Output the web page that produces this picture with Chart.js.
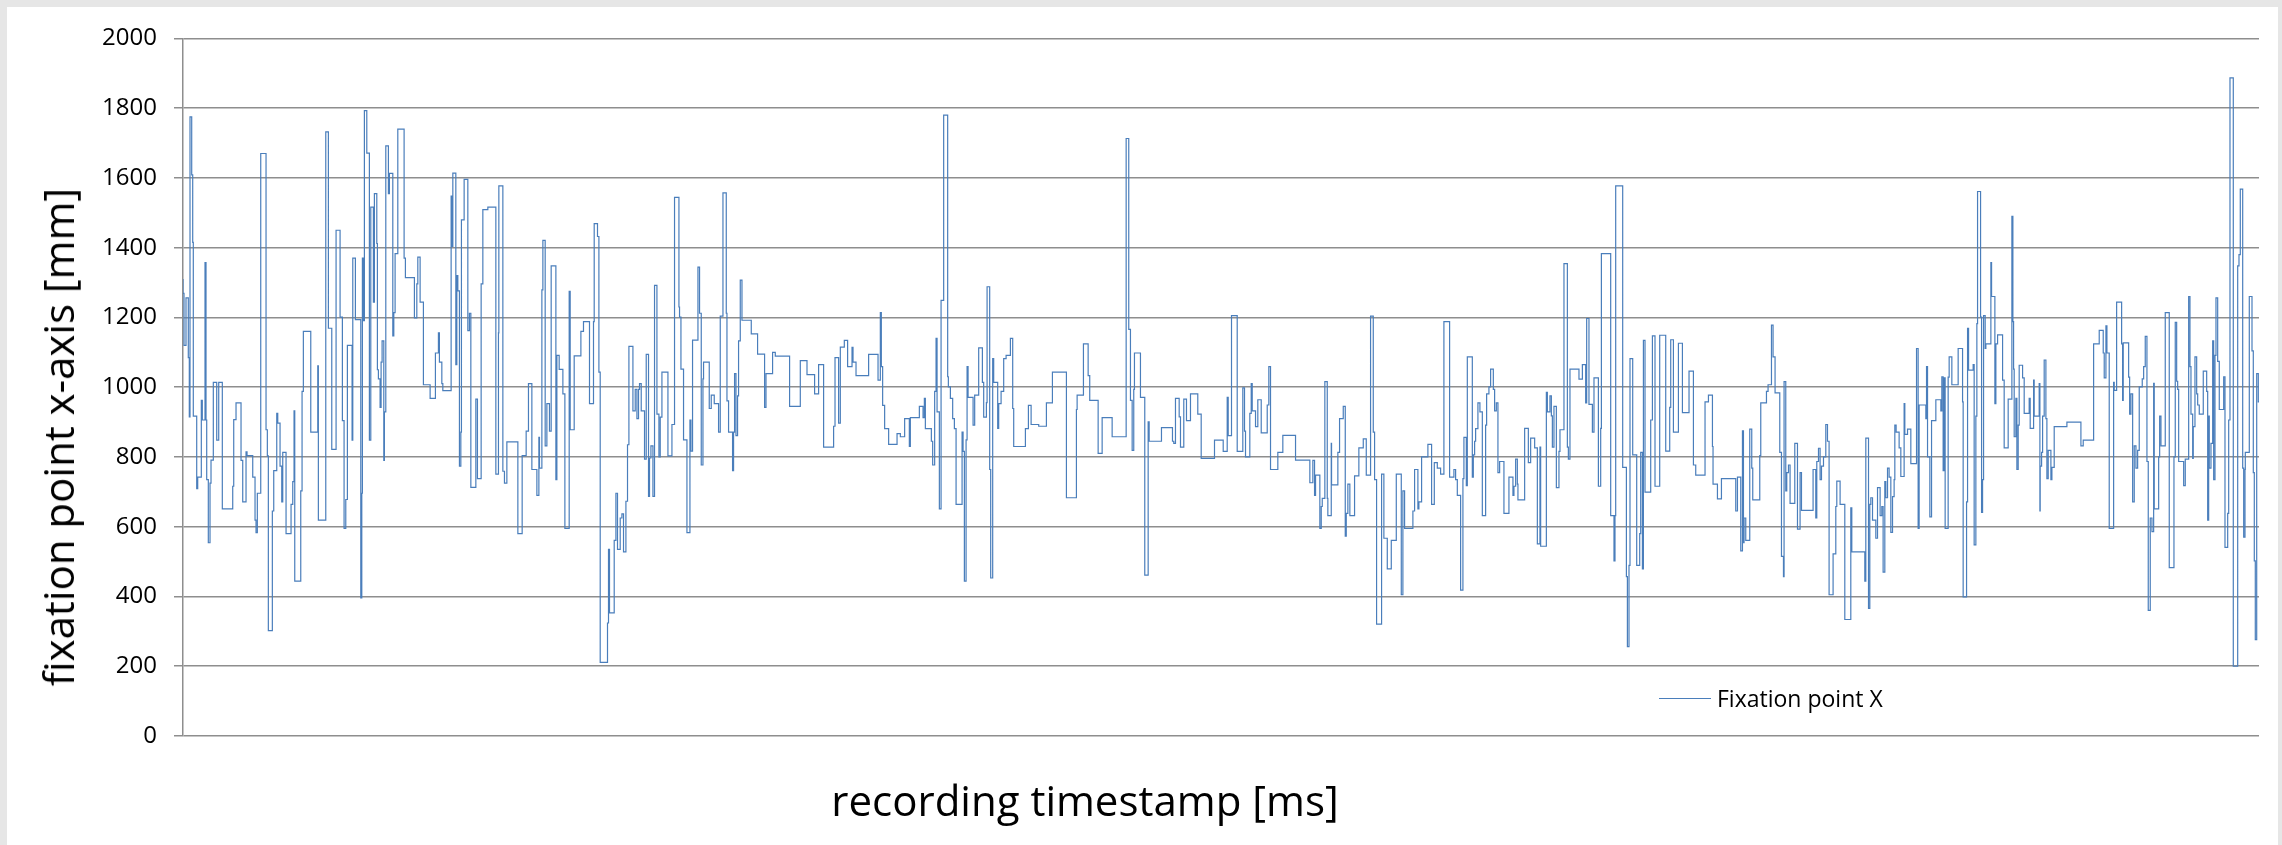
<!DOCTYPE html>
<html>
<head>
<meta charset="utf-8">
<script src="https://cdn.jsdelivr.net/npm/chart.js@4.4.0/dist/chart.umd.min.js"></script>
<style>
  html, body { margin: 0; padding: 0; }
  body { background: #e6e6e6; width: 2282px; height: 845px; overflow: hidden; position: relative; font-family: "Open Sans", sans-serif; }
  #frame { position: absolute; left: 7px; top: 7px; width: 2271px; height: 838px; background: #fff; }
  #chartBox { position: absolute; left: 0; top: 0; width: 2271px; height: 838px; }
  .axisTitle { position: absolute; font-size: 42px; color: #000; white-space: nowrap; line-height: 1; }
  #yTitle { left: 51px; top: 430px; transform: translate(-50%, -50%) rotate(-90deg); }
  #xTitle { left: 1078px; top: 793px; transform: translate(-50%, -50%); }
  #legend { position: absolute; left: 1652px; top: 678px; height: 26px; display: flex; align-items: center; font-size: 23px; color: #000; white-space: nowrap; }
  #legend .swatch { width: 52px; height: 0; border-top: 1.5px solid #4a7ebb; margin-right: 6px; }
</style>
</head>
<body>
<div id="frame">
  <div id="chartBox"><canvas id="fixationChart"></canvas></div>
  <div class="axisTitle" id="yTitle">fixation point x-axis [mm]</div>
  <div class="axisTitle" id="xTitle">recording timestamp [ms]</div>
  <div id="legend"><span class="swatch"></span><span id="legendText"></span></div>
</div>
<script>
// Series name and axis range
const seriesName = 'Fixation point X';
const yTicksMax = 2000;
const yTickStep = 200;
const recordingEnd = 20750;

// Recording timestamps (ms) where the fixation value changes
const timestampsMs = [
  0,10,30,53,63,70,87,97,103,137,147,183,193,220,230,237,253,270,280,303,
  337,357,393,497,507,530,580,597,630,640,697,720,730,743,777,830,843,853,893,907,
  937,947,970,987,997,1030,1080,1097,1110,1117,1177,1190,1203,1277,1347,1353,1427,1453,1487,1530,
  1570,1593,1610,1627,1643,1690,1697,1723,1777,1787,1793,1803,1813,1837,1863,1877,1903,1913,1937,1943,
  1953,1970,1980,1990,2007,2013,2027,2053,2063,2097,2107,2120,2147,2210,2223,2313,2337,2347,2370,2403,
  2470,2523,2553,2563,
  2587,2597,2680,2687,2697,2727,2737,2747,2763,2777,2783,2810,2847,2863,2877,2927,2943,2980,2997,3047,
  3127,3153,3157,3197,3213,3237,3347,3390,3430,3453,3487,3537,3557,3563,3587,3597,3620,3637,3663,3680,
  3727,3737,3760,3797,3817,3860,3870,3910,3977,4003,4063,4103,4110,4143,4157,4170,4243,4253,4263,4310,
  4327,4343,4370,4387,4403,4427,4443,4457,4497,4520,4537,4553,4563,4580,4613,4630,4653,4663,4677,4697,
  4713,4737,4757,4770,4787,4847,4887,4913,4957,4963,4977,5003,5037,5067,5077,5093,5147,5163,
  5180,5197,5203,5260,5280,5310,5353,5370,5397,5430,5437,5453,5493,5503,5513,5527,5543,5553,5570,5587,
  5680,5743,5813,5827,5893,5920,6063,6170,6237,6313,6353,6403,6503,6517,6553,6570,6610,6643,6687,6697,
  6727,6853,6947,6970,6980,6993,7013,7053,7137,7170,7213,7260,7270,7360,7397,7410,7420,7480,7493,7513,
  7527,7537,7560,7577,7603,7643,7650,7670,7693,7710,7727,
  7787,7797,7810,7827,7837,7847,7897,7913,7953,7990,8003,8030,8037,8063,8073,8093,8103,8143,8153,8177,
  8203,8227,8270,8293,8303,8420,8450,8477,8553,8630,8690,8830,8930,8937,9000,9047,9063,9147,9187,9287,
  9427,9453,9470,9487,9503,9510,9570,9613,9647,9657,9780,9890,9903,9920,9957,9970,10003,10030,10070,10143,
  10177,10310,
  10397,10437,10447,10480,10537,10593,10610,10620,10663,10677,10687,10720,10743,10777,10837,10853,10870,10943,10993,11120,
  11263,11293,11310,11320,11363,11377,11387,11413,11437,11443,11477,11480,11543,11560,11597,11617,11627,11643,11663,11710,
  11753,11797,11827,11870,11897,11910,11930,11980,12003,12037,12077,12127,12177,12193,12210,12293,12310,12343,12353,12380,
  12443,12480,12507,12537,12570,12603,12660,12703,12720,12737,12770,12793,12803,12827,12837,12887,12897,12910,12920,12943,
  12963,
  12987,13020,13030,13053,13070,13097,13110,13127,13143,13160,13203,13253,13293,13303,13320,13337,13343,13410,13447,13470,
  13510,13537,13563,13570,13627,13637,13663,13677,13687,13703,13727,13753,13763,13803,13837,13847,13863,13953,13987,14020,
  14030,14053,14087,14103,14147,14170,14177,14270,14303,14313,14320,14390,14427,14437,14453,14463,14490,14530,14560,14570,
  14587,14597,14613,14670,14687,14713,14760,14820,14860,14870,14897,14947,14987,15053,15097,15120,15213,15247,15287,15293,
  15337,15377,15520,15537,
  15570,15587,15597,15603,15620,15660,15680,15690,15760,15770,15827,15843,15877,15893,15913,15960,15977,15997,16003,16020,
  16030,16047,16063,16110,16137,16163,16177,16293,16320,16330,16347,16363,16377,16397,16420,16437,16453,16493,16520,16530,
  16563,16610,16670,16680,16810,16820,16847,16860,16870,16887,16920,16937,16963,16980,16993,17010,17020,17037,17053,17070,
  17087,17103,17110,17123,17153,17170,17203,17210,17237,17270,17327,17343,17353,17420,17427,17437,17460,17477,17520,17570,
  17580,17593,17603,17613,17643,17653,17680,17743,17787,17793,17827,17837,17847,17893,17903,17920,17930,17937,17967,17977,
  17987,17997,18013,18020,18070,18077,18110,18120,18137,
  18187,18203,18243,18280,18290,18297,18303,18320,18330,18343,18353,18387,18403,18453,18463,18497,18503,18553,18560,18563,
  18577,18587,18603,18620,18630,18643,18670,18680,18703,18830,18970,18993,19097,19153,19193,19203,19220,19230,19253,19297,
  19303,19327,19377,19387,19393,19447,19457,19470,19487,19503,19520,19537,19553,19583,19597,19613,19630,19643,19663,19680,
  19697,19703,19747,19757,19770,19813,19853,19900,19913,19927,19937,19947,19997,20013,20047,20060,20070,20087,20093,20110,
  20127,20137,20153,20193,20227,20237,20247,20253,20270,20287,20297,20310,20320,20337,20353,20397,20410,20437,20447,20460,
  20493,20537,20550,20563,20587,20597,20610,20613,20653,20680,20693,20703,20713,20727,20743,20750
];

// Fixation point x (mm) from each timestamp on
const fixationX = [
  1310,1269,1120,1256,1085,915,1775,1609,1415,917,709,742,962,906,1357,906,735,554,725,791,
  1014,848,1014,651,716,907,955,790,671,815,804,742,619,583,696,1670,878,803,302,645,
  761,925,897,774,671,813,580,664,729,932,444,703,988,1160,871,1061,619,1732,1169,822,
  1450,1201,904,595,678,1120,848,1370,1194,396,696,1370,1191,1793,1671,848,1516,1244,1555,1412,
  1050,1024,942,1072,1133,790,929,1692,1555,1613,1147,1214,1383,1740,1370,1314,1199,1296,1373,1244,
  1007,968,1098,1156,
  1072,1010,990,1548,1404,1614,1065,1320,1276,774,871,1480,1596,1162,1212,713,966,738,1296,1509,
  1516,751,1156,1577,759,725,843,580,804,874,1010,764,690,856,768,1279,1421,832,953,874,
  1348,735,1091,1051,981,595,1275,878,1090,1160,1188,953,1188,1469,1432,1043,211,324,535,353,
  561,696,535,625,637,528,673,835,1117,932,994,910,994,1010,932,794,1094,687,797,832,
  687,1292,923,800,914,1043,803,893,1544,1230,1201,1052,849,583,906,817,1135,1344,
  1212,777,1024,1072,939,977,953,871,1204,1557,1212,961,871,761,871,1039,861,975,1133,1307,
  1192,1153,1095,942,1039,1100,1089,945,1076,1036,981,1065,828,888,1085,897,1115,1134,1059,1114,
  1072,1033,1094,1020,1214,1059,948,881,836,867,858,910,830,913,945,913,968,881,845,777,
  988,1140,929,651,1249,1780,1030,1001,968,910,881,
  664,871,816,444,849,1059,971,891,977,1113,1014,914,956,1288,764,453,1082,1014,882,953,
  988,1082,1091,1140,939,830,881,948,893,888,955,1043,683,936,977,1124,1033,962,810,913,
  858,1713,1166,962,819,994,1098,971,461,901,845,884,845,839,968,915,828,966,904,981,
  923,796,
  848,816,971,861,1205,816,998,874,800,925,1010,932,887,964,869,949,1059,764,813,862,
  791,726,790,690,748,595,658,681,1016,681,632,839,720,813,910,945,573,638,722,632,
  746,826,852,748,1204,871,735,321,751,567,479,561,751,405,703,595,645,764,651,671,
  800,836,664,784,768,751,1188,742,764,735,690,418,738,856,718,1087,742,806,845,881,
  955,
  929,632,891,981,1001,1052,994,932,955,755,787,638,742,690,716,794,722,677,882,784,
  854,826,551,828,544,985,929,975,918,828,945,712,816,878,1354,828,794,1052,1023,1065,
  955,1197,951,871,1027,716,882,1383,632,502,632,1577,770,457,256,489,1082,806,489,580,
  813,479,1134,699,906,1147,716,1149,817,942,1136,871,1126,927,1046,777,748,958,977,830,
  722,680,738,645,
  742,531,875,554,625,561,880,768,677,804,955,988,1007,1178,1087,984,813,515,457,1016,
  703,755,777,667,839,593,755,647,764,625,787,825,735,774,800,893,845,405,522,658,
  731,664,334,654,528,444,854,366,664,683,619,567,712,632,658,470,729,683,768,742,
  584,686,735,891,871,826,744,953,865,880,781,1111,595,949,910,1059,800,628,904,964,
  932,1030,761,1027,595,1029,1087,1007,1111,958,399,671,1169,1049,1065,548,917,1182,1561,1201,
  641,735,1205,1111,1124,1357,1260,953,1124,
  1150,1020,826,966,1490,1188,1052,858,968,764,891,1063,1027,925,968,882,1020,917,1010,645,
  774,813,917,1078,910,738,819,735,770,887,900,832,848,1124,1163,1098,1027,1176,1098,595,
  1014,991,1244,1124,962,1127,1029,923,981,671,832,768,819,1001,1024,1059,1146,787,360,625,
  586,1011,651,800,917,832,1214,483,800,1186,1017,994,787,718,794,1260,1059,923,796,887,
  1087,981,949,923,1046,988,619,917,768,839,1133,735,1091,1256,1074,936,1030,541,638,906,
  1887,200,1348,1380,1568,768,570,764,813,1260,1104,755,502,276,1039,958
];

if (timestampsMs.length !== fixationX.length) {
  console.error('length mismatch', timestampsMs.length, fixationX.length);
}

const points = timestampsMs.map((t, i) => ({ x: t, y: fixationX[i] }));
document.getElementById('legendText').textContent = seriesName;

const gridGray = '#8e8e8e';

new Chart(document.getElementById('fixationChart').getContext('2d'), {
  type: 'line',
  data: {
    datasets: [{
      label: seriesName,
      data: points,
      stepped: 'after',
      borderColor: '#4a7ebb',
      borderWidth: 1.2,
      pointRadius: 0,
      fill: false
    }]
  },
  options: {
    responsive: true,
    maintainAspectRatio: false,
    animation: false,
    layout: { padding: { left: 0, right: 19, top: 29, bottom: 0 } },
    plugins: {
      legend: { display: false },
      tooltip: { enabled: false }
    },
    scales: {
      x: {
        type: 'linear',
        min: 0,
        max: recordingEnd,
        ticks: { display: false },
        grid: { display: false, drawTicks: false },
        border: { display: false },
        afterFit: function (scale) { scale.height = 109; }
      },
      y: {
        min: 0,
        max: yTicksMax,
        ticks: {
          stepSize: yTickStep,
          padding: 17,
          color: '#000',
          font: { family: 'Open Sans', size: 24 },
          callback: function (value) { return String(value); }
        },
        grid: { color: gridGray, lineWidth: 1.5, tickLength: 9, tickColor: gridGray, tickWidth: 1.5 },
        border: { color: gridGray, width: 1.5 },
        afterFit: function (scale) { scale.width = 176; }
      }
    }
  }
});
</script>
</body>
</html>
